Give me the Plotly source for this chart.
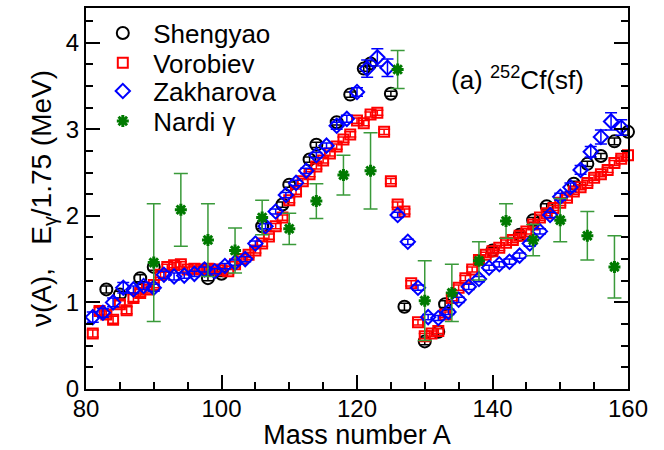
import plotly.graph_objects as go

# ---------------- data ----------------
shengyao_A = [83, 85, 88, 90, 98, 100, 106, 109, 110, 113, 114, 117, 119, 121, 122, 125,
              127, 130, 132, 133, 140, 144, 146, 148, 152, 154, 156, 158, 160]
shengyao_v = [1.15, 1.09, 1.28, 1.41, 1.28, 1.33, 1.88, 2.13, 2.36, 2.65, 2.82, 3.08, 3.40, 3.70, 3.76, 3.41,
              0.95, 0.55, 0.66, 0.98, 1.60, 1.78, 1.95, 2.11, 2.37, 2.60, 2.69, 2.86, 2.97]
shengyao_err = [0.04, 0.04, 0.04, 0.04, 0.03, 0.03, 0.03, 0.03, 0.03, 0.03, 0.03, 0.03, 0.03, 0.03, 0.03, 0.03,
                0.04, 0.04, 0.04, 0.04, 0.03, 0.03, 0.03, 0.03, 0.03, 0.03, 0.03, 0.04, 0.04]

vorobiev_A = [81, 82, 83, 84, 85, 86, 87, 88, 89, 90, 91, 92, 93, 94, 95, 96, 97, 98, 99, 100,
              101, 102, 103, 104, 105, 106, 107, 108, 109, 110, 111, 112, 113, 114, 115, 116, 117, 118, 119, 120,
              121, 122, 123, 124, 125, 126, 127, 128, 129, 130, 131, 132, 133, 134, 135, 136, 137, 138, 139, 140,
              141, 142, 143, 144, 145, 146, 147, 148, 149, 150, 151, 152, 153, 154, 155, 156, 157, 158, 159, 160]
vorobiev_v = [0.64, 0.90, 0.86, 0.80, 0.98, 0.91, 1.05, 1.11, 1.15, 1.20, 1.32, 1.41, 1.43, 1.44, 1.38, 1.39, 1.38, 1.39, 1.38, 1.37,
              1.36, 1.44, 1.50, 1.55, 1.60, 1.68, 1.76, 1.88, 1.98, 2.18, 2.28, 2.40, 2.48, 2.57, 2.64, 2.72, 2.80, 2.88, 2.94, 3.10,
              3.07, 3.17, 3.19, 2.97, 2.40, 2.13, 2.05, 1.22, 0.77, 0.61, 0.64, 0.67, 0.86, 1.05, 1.17, 1.28, 1.38, 1.49, 1.55, 1.59,
              1.63, 1.69, 1.72, 1.77, 1.82, 1.90, 1.98, 2.03, 2.09, 2.15, 2.21, 2.28, 2.33, 2.38, 2.44, 2.48, 2.53, 2.61, 2.66, 2.70]
vorobiev_err = [0.04] * 9 + [0.03] * 71

zakharova_A = [81, 82.5, 84, 85.5, 87, 88.5, 90, 91.5, 93, 94.5, 96, 97.5, 99, 100.5, 102, 103.5, 105, 106.5,
               108, 109.5, 111, 112.5, 114, 115.5, 117, 118.5, 120, 121.5, 123, 124.5, 126, 127.5, 129, 130.5,
               132, 133.5, 135, 136.5, 138, 139.5, 141, 142.5, 144, 145.5, 147, 148.5, 150, 151.5, 153, 154.5,
               156, 157.5, 159]
zakharova_v = [0.83, 0.88, 1.00, 1.17, 1.15, 1.19, 1.17, 1.32, 1.30, 1.31, 1.33, 1.38, 1.36, 1.42, 1.46, 1.50, 1.68, 1.88,
               2.05, 2.24, 2.38, 2.52, 2.70, 2.81, 3.04, 3.12, 3.43, 3.70, 3.83, 3.71, 2.01, 1.70, 1.17, 0.83,
               0.82, 0.89, 1.03, 1.18, 1.27, 1.40, 1.44, 1.47, 1.54, 1.68, 1.82, 2.01, 2.22, 2.33, 2.53, 2.74,
               2.91, 3.09, 3.02]
zakharova_err = [0.06, 0.05, 0.05, 0.06, 0.04, 0.04, 0.04, 0.04, 0.04, 0.03, 0.03, 0.03, 0.03, 0.03, 0.03, 0.03, 0.03, 0.03,
                 0.03, 0.03, 0.03, 0.03, 0.03, 0.03, 0.04, 0.04, 0.05, 0.10, 0.10, 0.10, 0.03, 0.03, 0.03, 0.03,
                 0.03, 0.03, 0.03, 0.03, 0.03, 0.03, 0.03, 0.03, 0.03, 0.03, 0.03, 0.03, 0.04, 0.05, 0.05, 0.06,
                 0.08, 0.10, 0.09]

nardi_A = [90, 94, 98, 102, 106, 110, 114, 118, 122, 126, 130, 134, 138, 142, 146, 150, 154, 158]
nardi_v = [1.46, 2.07, 1.72, 1.60, 1.98, 1.85, 2.17, 2.47, 2.52, 3.69, 1.02, 1.11, 1.48, 1.94, 1.72, 1.95, 1.77, 1.41]
nardi_err = [0.68, 0.42, 0.42, 0.26, 0.20, 0.18, 0.20, 0.23, 0.44, 0.22, 0.46, 0.33, 0.22, 0.20, 0.18, 0.25, 0.28, 0.36]

x_ticks = [80, 100, 120, 140, 160]
y_ticks = [0, 1, 2, 3, 4]

FONT = "Liberation Sans, Arial, Helvetica, sans-serif"
SP = "\u2009\u2009"

fig = go.Figure()

fig.add_trace(go.Scatter(
    x=shengyao_A, y=shengyao_v, mode="markers", name=SP + "Shengyao", legend="legend", showlegend=True,
    marker=dict(symbol="circle-open", size=12, color="black", line=dict(width=2, color="black")),
    error_y=dict(type="data", array=shengyao_err, color="black", thickness=1.5, width=5),
    cliponaxis=False))

fig.add_trace(go.Scatter(
    x=vorobiev_A, y=vorobiev_v, mode="markers", name=SP + "Vorobiev", legend="legend2", showlegend=True,
    marker=dict(symbol="square-open", size=10, color="#ff0000", line=dict(width=2, color="#ff0000")),
    error_y=dict(type="data", array=vorobiev_err, color="#ff0000", thickness=1.5, width=6),
    cliponaxis=False))

fig.add_trace(go.Scatter(
    x=zakharova_A, y=zakharova_v, mode="markers", name=SP + "Zakharova", legend="legend3", showlegend=True,
    marker=dict(symbol="diamond-open", size=11, color="#0000ff", line=dict(width=2, color="#0000ff")),
    error_y=dict(type="data", array=zakharova_err, color="#0000ff", thickness=1.5, width=6),
    cliponaxis=False))

fig.add_trace(go.Scatter(
    x=nardi_A, y=nardi_v, mode="markers", name=SP + "Nardi γ", legend="legend4", showlegend=True,
    marker=dict(symbol="asterisk-open", size=10, color="#007a00", line=dict(width=3, color="#007a00")),
    error_y=dict(type="data", array=nardi_err, color="#3a9a3a", thickness=1.5, width=7),
    cliponaxis=False))

leg_common = dict(x=0.031, xanchor="left", yanchor="middle", bgcolor="rgba(0,0,0,0)",
                  font=dict(family=FONT, size=26, color="black"), borderwidth=0, visible=True)

fig.update_layout(
    width=664, height=450,
    margin=dict(l=86, r=36, t=8, b=61, autoexpand=False),
    paper_bgcolor="white", plot_bgcolor="white",
    showlegend=True,
    font=dict(family=FONT, size=24, color="black"),
    legend=dict(y=0.934, **leg_common),
    legend2=dict(y=0.856, **leg_common),
    legend3=dict(y=0.782, **leg_common),
    legend4=dict(y=0.703, **leg_common),
    xaxis=dict(
        range=[80, 160], tickmode="array", tickvals=x_ticks, ticktext=[str(t) for t in x_ticks],
        ticks="inside", ticklen=14, tickwidth=1.5, tickcolor="black", automargin=False,
        ticklabelstandoff=-3,
        minor=dict(ticks="inside", ticklen=7, tickwidth=1.5, tickcolor="black", dtick=5, showgrid=False),
        showline=True, linewidth=2, linecolor="black", mirror=True, showgrid=False, zeroline=False,
        tickfont=dict(family=FONT, size=24, color="black"),
        title=dict(text="Mass number A", font=dict(family=FONT, size=27, color="black"), standoff=7),
    ),
    yaxis=dict(
        range=[0, 4.4], tickmode="array", tickvals=y_ticks, ticktext=[str(t) for t in y_ticks],
        ticks="inside", ticklen=14, tickwidth=1.5, tickcolor="black", automargin=False,
        minor=dict(ticks="inside", ticklen=7, tickwidth=1.5, tickcolor="black", dtick=0.25, showgrid=False),
        showline=True, linewidth=2, linecolor="black", mirror="ticks", showgrid=False, zeroline=False,
        tickfont=dict(family=FONT, size=24, color="black"),
        title=dict(text="ν(A),   E<sub>γ</sub>/1.75 (MeV)", font=dict(family=FONT, size=28, color="black"),
                   standoff=6),
    ),
    annotations=[dict(
        text="(a) <sup>252</sup>Cf(sf)", xref="paper", yref="paper", x=0.797, y=0.816,
        xanchor="center", yanchor="middle", showarrow=False,
        font=dict(family=FONT, size=26, color="black"))],
)

fig.write_html("out.html")
